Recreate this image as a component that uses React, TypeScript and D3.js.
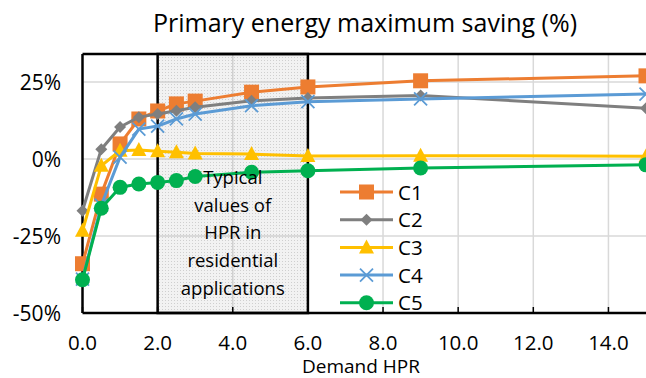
import React from 'react';
import { scaleLinear, line } from 'd3';

const hpr = [0, 0.5, 1, 1.5, 2, 2.5, 3, 4.5, 6, 9, 15];
const c1 = [-34, -11.4, 4.9, 13, 15.6, 17.9, 18.8, 21.7, 23.4, 25.4, 27];
const c2 = [-16.8, 3.2, 10.4, 13.6, 14.6, 15.7, 16.8, 18.9, 19.8, 20.6, 16.5];
const c3 = [-23.3, -2.2, 2.7, 2.9, 2.5, 2.2, 1.8, 1.6, 1.0, 1.1, 0.9];
const c4 = [-39, -15, 0.6, 9.7, 10.7, 13, 14.6, 17.3, 18.6, 19.5, 21.1];
const c5 = [-39.2, -16, -9.2, -8.1, -7.6, -7, -5.7, -4.3, -3.8, -2.9, -1.9];

const seriesNames = ['C1', 'C2', 'C3', 'C4', 'C5'];
const seriesValues = [c1, c2, c3, c4, c5];
const colors = ['#ED7D31', '#7F7F7F', '#FFC000', '#5B9BD5', '#00B050'];
const markers = ['square', 'diamond', 'triangle', 'cross', 'circle'];

const xTicks = [0, 2, 4, 6, 8, 10, 12, 14];
const yTicks = [-50, -25, 0, 25];
const boxRange = [2, 6];
const boxLines = ['Typical', 'values of', 'HPR in', 'residential', 'applications'];

const W = 646;
const H = 378;
const FONT = '"Open Sans", sans-serif';

const Marker = ({ kind, x, y, color }: { kind: string; x: number; y: number; color: string }) => {
  if (kind === 'square') return <rect x={x - 7.5} y={y - 7.5} width={15} height={15} fill={color} />;
  if (kind === 'diamond')
    return <path d={`M${x},${y - 6}L${x + 6},${y}L${x},${y + 6}L${x - 6},${y}Z`} fill={color} />;
  if (kind === 'triangle')
    return <path d={`M${x},${y - 8}L${x + 7.5},${y + 6}L${x - 7.5},${y + 6}Z`} fill={color} />;
  if (kind === 'cross')
    return (
      <path
        d={`M${x - 6.5},${y - 6.5}L${x + 6.5},${y + 6.5}M${x - 6.5},${y + 6.5}L${x + 6.5},${y - 6.5}`}
        stroke={color}
        strokeWidth={1.8}
      />
    );
  return <circle cx={x} cy={y} r={7.5} fill={color} />;
};

export default function App() {
  const left = 82.5;
  const right = 646;
  const top = 54;
  const bottom = 313;

  const x = scaleLinear().domain([0, 15]).range([left, right]);
  const y = scaleLinear().domain([-50, 34.1]).range([bottom, top]);

  const path = line<number>()
    .x((_, i) => x(hpr[i]))
    .y((d) => y(d));

  const bx0 = x(boxRange[0]);
  const bx1 = x(boxRange[1]);
  const bxc = x((boxRange[0] + boxRange[1]) / 2);

  return (
    <svg width={W} height={H} style={{ position: 'absolute', left: 0, top: 0, background: '#fff' }}>
      <defs>
        <pattern id="dots" width={3} height={3} patternUnits="userSpaceOnUse">
          <rect width={3} height={3} fill="#f2f2f2" />
          <rect width={1} height={1} fill="#cfcfcf" />
        </pattern>
      </defs>

      <text x={365} y={32} textAnchor="middle" fontFamily={FONT} fontSize={25} fill="#000">
        Primary energy maximum saving (%)
      </text>

      {/* gridlines */}
      {yTicks.slice(1).map((t) => (
        <line key={'gy' + t} x1={left} x2={right} y1={y(t)} y2={y(t)} stroke="#d9d9d9" strokeWidth={1.5} />
      ))}
      {xTicks.slice(1).map((t) => (
        <line key={'gx' + t} x1={x(t)} x2={x(t)} y1={top} y2={bottom} stroke="#d9d9d9" strokeWidth={1.5} />
      ))}

      {/* typical HPR box */}
      <rect x={bx0} y={top} width={bx1 - bx0} height={bottom - top} fill="url(#dots)" />
      {xTicks.slice(1).map((t) =>
        t > boxRange[0] && t < boxRange[1] ? (
          <line key={'bg' + t} x1={x(t)} x2={x(t)} y1={top} y2={bottom} stroke="#d0d0d0" strokeWidth={1.5} />
        ) : null
      )}
      {yTicks.slice(1).map((t) => (
        <line key={'bgy' + t} x1={bx0} x2={bx1} y1={y(t)} y2={y(t)} stroke="#d0d0d0" strokeWidth={1.5} />
      ))}
      <rect x={bx0} y={top} width={bx1 - bx0} height={bottom - top} fill="none" stroke="#000" strokeWidth={2.5} />

      {/* plot border */}
      <line x1={left} x2={right} y1={top} y2={top} stroke="#000" strokeWidth={2.5} />
      <line x1={left} x2={left} y1={top} y2={bottom} stroke="#000" strokeWidth={2.5} />
      <line x1={left} x2={right} y1={bottom} y2={bottom} stroke="#000" strokeWidth={2.5} />
      {xTicks.map((t) => (
        <line key={'tk' + t} x1={x(t)} x2={x(t)} y1={bottom} y2={bottom - 6} stroke="#000" strokeWidth={1.5} />
      ))}

      {/* series */}
      {seriesValues.map((vals, si) => (
        <g key={seriesNames[si]}>
          <path d={path(vals) || ''} fill="none" stroke={colors[si]} strokeWidth={3} strokeLinejoin="round" />
          {vals.map((v, i) => (
            <Marker key={i} kind={markers[si]} x={x(hpr[i])} y={y(v)} color={colors[si]} />
          ))}
        </g>
      ))}

      {/* box text */}
      {boxLines.map((t, i) => (
        <text
          key={t}
          x={bxc}
          y={184 + i * 27.7}
          textAnchor="middle"
          fontFamily={FONT}
          fontSize={18.5}
          fill="#000"
        >
          {t}
        </text>
      ))}

      {/* y axis labels */}
      {yTicks.map((t) => (
        <text
          key={'yl' + t}
          x={61}
          y={y(t) + 7.5}
          textAnchor="end"
          fontFamily={FONT}
          fontSize={21}
          fill="#000"
        >
          {t + '%'}
        </text>
      ))}

      {/* x axis labels */}
      {xTicks.map((t) => (
        <text
          key={'xl' + t}
          x={x(t)}
          y={350}
          textAnchor="middle"
          fontFamily={FONT}
          fontSize={20.5}
          fill="#000"
        >
          {t.toFixed(1)}
        </text>
      ))}
      <text x={361} y={373} textAnchor="middle" fontFamily={FONT} fontSize={19} fill="#000">
        Demand HPR
      </text>

      {/* legend */}
      {seriesNames.map((n, i) => {
        const ly = 192 + i * 27.7;
        return (
          <g key={'lg' + n}>
            <line x1={340} x2={393} y1={ly} y2={ly} stroke={colors[i]} strokeWidth={3} />
            <Marker kind={markers[i]} x={366.5} y={ly} color={colors[i]} />
            <text x={398} y={ly + 7.5} fontFamily={FONT} fontSize={20.5} fill="#000">
              {n}
            </text>
          </g>
        );
      })}
    </svg>
  );
}
